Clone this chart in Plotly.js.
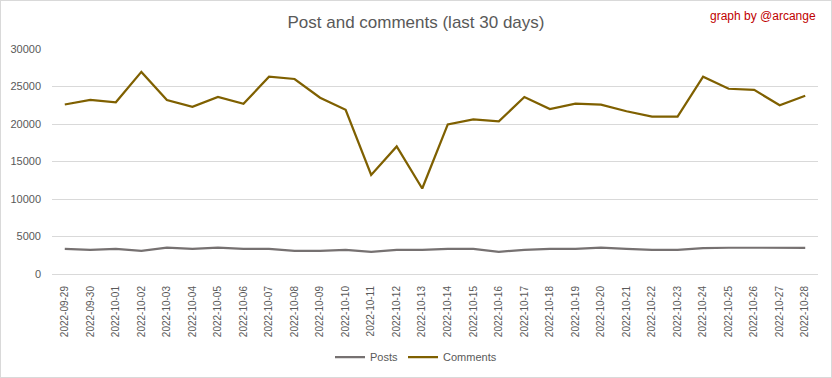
<!DOCTYPE html>
<html><head><meta charset="utf-8">
<script src="https://cdn.plot.ly/plotly-3.0.1.min.js"></script>
<style>html,body{margin:0;padding:0;background:#fff}#c{width:830px;height:376px;border:1px solid #d9d9d9}</style>
</head><body><div id="c"></div>
<script>
const dates = ["2022-09-29","2022-09-30","2022-10-01","2022-10-02","2022-10-03","2022-10-04","2022-10-05","2022-10-06","2022-10-07","2022-10-08","2022-10-09","2022-10-10","2022-10-11","2022-10-12","2022-10-13","2022-10-14","2022-10-15","2022-10-16","2022-10-17","2022-10-18","2022-10-19","2022-10-20","2022-10-21","2022-10-22","2022-10-23","2022-10-24","2022-10-25","2022-10-26","2022-10-27","2022-10-28"];
const posts = [3350,3230,3360,3100,3500,3360,3500,3360,3360,3100,3100,3230,2960,3230,3230,3360,3360,2960,3230,3360,3360,3500,3360,3230,3230,3450,3500,3500,3500,3500];
const comments = [22600,23200,22900,26950,23200,22300,23600,22700,26300,26000,23500,21900,13200,17000,11400,19950,20600,20350,23600,22000,22700,22570,21700,21000,21000,26300,24700,24550,22500,23760];
const yTicks = [0,5000,10000,15000,20000,25000,30000];

const font = "Liberation Sans, Arial, sans-serif";
const traces = [
  {x: dates, y: posts, name: "Posts", type: "scatter", mode: "lines", line: {color: "#767171", width: 2.25}},
  {x: dates, y: comments, name: "Comments", type: "scatter", mode: "lines", line: {color: "#7f6000", width: 2.25}}
];
const layout = {
  width: 830, height: 376,
  margin: {l: 51, r: 13, t: 48, b: 103},
  paper_bgcolor: "#fff", plot_bgcolor: "#fff",
  font: {family: font, color: "#595959", size: 11},
  title: {text: "Post and comments (last 30 days)", font: {family: font, size: 17, color: "#595959"}, x: 0.5, xref: "container", xanchor: "center", y: 1 - 21/376, yref: "container", yanchor: "middle"},
  showlegend: true,
  legend: {orientation: "h", x: 0.5, xanchor: "center", xref: "container", y: 20/376, yref: "container", yanchor: "middle", font: {family: font, size: 11, color: "#595959"}, entrywidth: 0, itemwidth: 30},
  xaxis: {type: "category", tickangle: -90, tickfont: {family: font, size: 10, color: "#595959"}, showgrid: false, showline: true, linecolor: "#d9d9d9", linewidth: 1, ticks: "", ticklabelstandoff: 7, zeroline: false, range: [-0.5, 29.5], automargin: false, fixedrange: true},
  yaxis: {range: [0, 30000], tickvals: yTicks, ticktext: yTicks.map(String), tickfont: {family: font, size: 11, color: "#595959"}, gridcolor: "#d9d9d9", gridwidth: 1, zeroline: false, showline: false, ticks: "", ticklabelstandoff: 10, automargin: false, fixedrange: true},
  annotations: [{text: "graph by @arcange", xref: "paper", yref: "paper", x: 1, xanchor: "right", y: 1 + 33/225, yanchor: "middle", showarrow: false, font: {family: font, size: 12, color: "#c00000"}}]
};
Plotly.newPlot("c", traces, layout, {displayModeBar: false, staticPlot: true});
</script></body></html>
